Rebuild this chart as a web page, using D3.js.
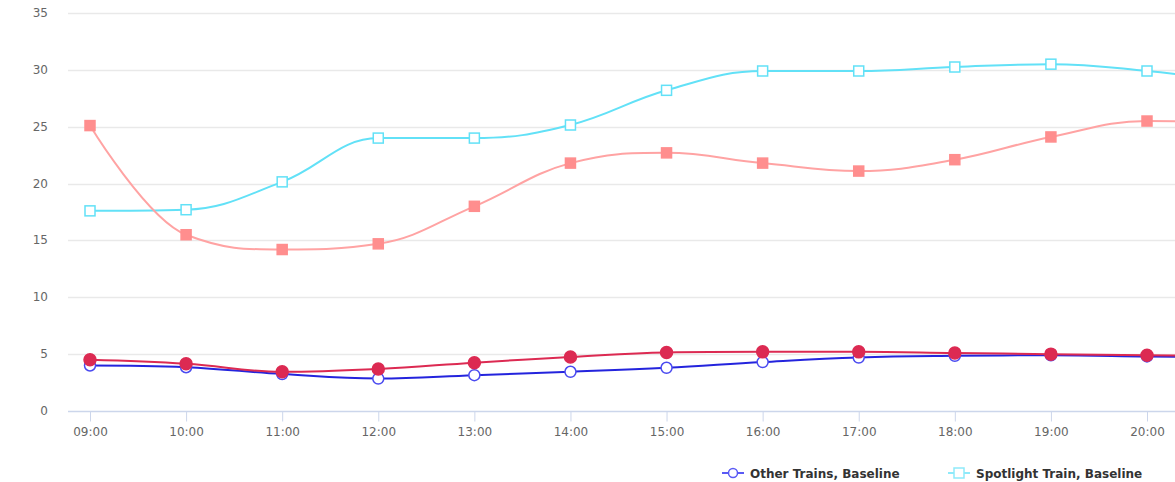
<!DOCTYPE html>
<html>
<head>
<meta charset="utf-8">
<script src="https://cdn.jsdelivr.net/npm/d3@7"></script>
<style>
html,body{margin:0;padding:0;background:#fff;overflow:hidden;}
svg{display:block;font-family:"DejaVu Sans",sans-serif;}
</style>
</head>
<body>
<svg id="chart" width="1175" height="482"></svg>
<script>
const categories = ["09:00","10:00","11:00","12:00","13:00","14:00","15:00","16:00","17:00","18:00","19:00","20:00","21:00"];
const otherBaseline = [4.0, 3.85, 3.25, 2.85, 3.15, 3.45, 3.8, 4.3, 4.7, 4.85, 4.9, 4.8, 4.7];
const otherActual = [4.5, 4.15, 3.45, 3.7, 4.25, 4.75, 5.15, 5.2, 5.2, 5.1, 5.0, 4.9, 4.8];
const spotlightBaseline = [17.6, 17.7, 20.15, 24.0, 24.0, 25.15, 28.2, 29.9, 29.9, 30.25, 30.5, 29.9, 28.9];
const spotlightActual = [25.1, 15.5, 14.2, 14.7, 18.0, 21.8, 22.7, 21.8, 21.1, 22.1, 24.1, 25.5, 25.4];
const yTicks = [0, 5, 10, 15, 20, 25, 30, 35];
const legendNames = ["Other Trains, Baseline", "Spotlight Train, Baseline"];

const svg = d3.select("#chart");
const x = d3.scaleLinear().domain([0, 11]).range([90, 1147]);
const y = d3.scaleLinear().domain([0, 35]).range([411, 13]);

// gridlines
svg.append("g").selectAll("line").data(yTicks).join("line")
  .attr("x1", 68).attr("x2", 1175)
  .attr("y1", d => Math.round(y(d)) + 0.5).attr("y2", d => Math.round(y(d)) + 0.5)
  .attr("stroke", d => d === 0 ? "none" : "#e9e9e9").attr("stroke-width", 1.5);

// y labels
svg.append("g").selectAll("text").data(yTicks).join("text")
  .attr("x", 48).attr("y", d => y(d) + 4)
  .attr("text-anchor", "end").attr("font-size", 12).attr("fill", "#666")
  .text(d => d);

// x axis (only the categories that fit in the window get a label)
const visibleTicks = d3.range(categories.length).filter(i => x(i) < 1175);
const xAxis = d3.axisBottom(x).tickValues(visibleTicks).tickFormat(i => categories[i]).tickSize(10).tickPadding(6);
const gx = svg.append("g").attr("transform", "translate(0,411.5)").call(xAxis);
gx.select(".domain").attr("d", "M68,0H1175").attr("stroke", "#ccd6eb").attr("stroke-width", 1.5);
gx.selectAll(".tick line").attr("stroke", "#ccd6eb");
gx.selectAll(".tick text").attr("fill", "#666").attr("font-size", 12).attr("font-family", "DejaVu Sans, sans-serif");

// Highcharts-like spline path
function splinePath(vals) {
  const pts = vals.map((v, i) => [x(i), y(v)]);
  const p = d3.path();
  const sm = 1.5, den = sm + 1;
  const ctrl = pts.map(() => ({}));
  for (let i = 1; i < pts.length - 1; i++) {
    const [px, py] = pts[i], [lx, ly] = pts[i - 1], [nx, ny] = pts[i + 1];
    let lcx = (sm * px + lx) / den, lcy = (sm * py + ly) / den;
    let rcx = (sm * px + nx) / den, rcy = (sm * py + ny) / den;
    const corr = ((rcy - lcy) * (rcx - px)) / (rcx - lcx) + py - rcy;
    lcy += corr; rcy += corr;
    if (lcy > ly && lcy > py) { lcy = Math.max(ly, py); rcy = 2 * py - lcy; }
    else if (lcy < ly && lcy < py) { lcy = Math.min(ly, py); rcy = 2 * py - lcy; }
    if (rcy > ny && rcy > py) { rcy = Math.max(ny, py); lcy = 2 * py - rcy; }
    else if (rcy < ny && rcy < py) { rcy = Math.min(ny, py); lcy = 2 * py - rcy; }
    ctrl[i] = {lcx, lcy, rcx, rcy};
  }
  p.moveTo(pts[0][0], pts[0][1]);
  for (let i = 1; i < pts.length; i++) {
    const a = ctrl[i - 1], b = ctrl[i];
    p.bezierCurveTo(
      a.rcx !== undefined ? a.rcx : pts[i - 1][0], a.rcy !== undefined ? a.rcy : pts[i - 1][1],
      b.lcx !== undefined ? b.lcx : pts[i][0], b.lcy !== undefined ? b.lcy : pts[i][1],
      pts[i][0], pts[i][1]);
  }
  return p.toString();
}

const series = [
  {data: spotlightBaseline, line: "#62e1f7", marker: "square", fill: "#fff", stroke: "#62e1f7"},
  {data: spotlightActual, line: "#ffa3a3", marker: "square", fill: "#ff8e8e", stroke: "#ff8e8e"},
  {data: otherBaseline, line: "#2424dd", marker: "circle", fill: "#fff", stroke: "#4a4af0"},
  {data: otherActual, line: "#dc2a52", marker: "circle", fill: "#dc2a52", stroke: "#dc2a52"}
];

series.forEach(s => {
  const g = svg.append("g");
  g.append("path").attr("d", splinePath(s.data)).attr("fill", "none")
    .attr("stroke", s.line).attr("stroke-width", 2);
  if (s.marker === "square") {
    g.selectAll("rect").data(s.data).join("rect")
      .attr("x", (d, i) => x(i) - 5).attr("y", d => y(d) - 5)
      .attr("width", 10).attr("height", 10)
      .attr("fill", s.fill).attr("stroke", s.stroke).attr("stroke-width", 1.5);
  } else {
    g.selectAll("circle").data(s.data).join("circle")
      .attr("cx", (d, i) => x(i)).attr("cy", d => y(d))
      .attr("r", s.fill === "#fff" ? 5.5 : 6)
      .attr("fill", s.fill).attr("stroke", s.stroke).attr("stroke-width", 1.5);
  }
});

// legend
const leg = [
  {name: legendNames[0], x0: 722, color: "#5a5af5", marker: "circle"},
  {name: legendNames[1], x0: 948, color: "#8eeafa", marker: "square"}
];
const lg = svg.append("g");
leg.forEach(l => {
  lg.append("line").attr("x1", l.x0).attr("x2", l.x0 + 22).attr("y1", 473).attr("y2", 473)
    .attr("stroke", l.color).attr("stroke-width", 2);
  if (l.marker === "circle") {
    lg.append("circle").attr("cx", l.x0 + 11).attr("cy", 473).attr("r", 4.5)
      .attr("fill", "#fff").attr("stroke", l.color).attr("stroke-width", 1.5);
  } else {
    lg.append("rect").attr("x", l.x0 + 6).attr("y", 468).attr("width", 10).attr("height", 10)
      .attr("fill", "#fff").attr("stroke", l.color).attr("stroke-width", 1.5);
  }
  lg.append("text").attr("x", l.x0 + 28).attr("y", 477.5)
    .attr("font-size", 12).attr("font-weight", "bold").attr("fill", "#333")
    .text(l.name);
});
</script>
</body>
</html>
